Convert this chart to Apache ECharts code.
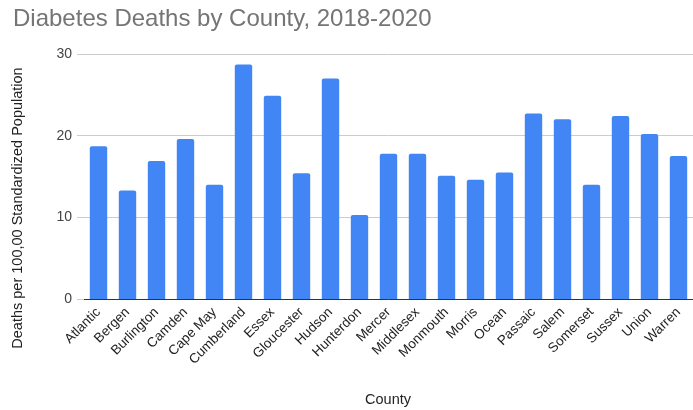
<!DOCTYPE html>
<html><head><meta charset="utf-8">
<script src="https://cdn.jsdelivr.net/npm/echarts@6/dist/echarts.min.js"></script>
<style>html,body{margin:0;padding:0;background:#fff}#c{width:693px;height:410px}</style>
</head><body><div id="c"></div>
<script>
var counties = ["Atlantic","Bergen","Burlington","Camden","Cape May","Cumberland","Essex","Gloucester","Hudson","Hunterdon","Mercer","Middlesex","Monmouth","Morris","Ocean","Passaic","Salem","Somerset","Sussex","Union","Warren"];
var deaths = [18.7,13.3,16.9,19.6,14.0,28.7,24.9,15.4,27.0,10.3,17.8,17.8,15.1,14.6,15.5,22.7,22.0,14.0,22.4,20.2,17.5];
var yTicks = [0,10,20,30];
var titleText = "Diabetes Deaths by County, 2018-2020";
var xName = "County";
var yName = "Deaths per 100,00 Standardized Population";

var chart = echarts.init(document.getElementById('c'), null, {renderer:'canvas'});
chart.setOption({
  animation:false,
  backgroundColor:'#fff',
  title:{text:titleText,left:8,top:2,textStyle:{fontFamily:'Liberation Sans, Arial',fontSize:24,fontWeight:'normal',color:'#757575'}},
  grid:{left:84,right:0,top:54,bottom:111,containLabel:false},
  xAxis:{type:'category',data:counties,
    axisLine:{show:true,lineStyle:{color:'#333',width:1}},
    axisTick:{show:false},
    axisLabel:{rotate:45,margin:11,interval:0,fontFamily:'Liberation Sans, Arial',fontSize:13.5,color:'#222'}},
  yAxis:{type:'value',min:yTicks[0],max:yTicks[yTicks.length-1],interval:10,
    axisLine:{show:false},
    axisTick:{show:true,length:7,lineStyle:{color:'#ccc'}},
    splitLine:{lineStyle:{color:'#ccc',width:1}},
    axisLabel:{margin:12,fontFamily:'Liberation Sans, Arial',fontSize:14,color:'#444'}},
  series:[{type:'bar',data:deaths,barCategoryGap:'40%',
    itemStyle:{color:'#4285F4',borderRadius:[2,2,0,0]}}],
  graphic:[
    {type:'text',x:388,y:400,style:{text:xName,font:'14.5px Liberation Sans, Arial',fill:'#222',align:'center',verticalAlign:'middle'}},
    {type:'text',x:18,y:208,rotation:Math.PI/2,style:{text:yName,font:'14.5px Liberation Sans, Arial',fill:'#222',align:'center',verticalAlign:'middle'}}
  ]
});
</script></body></html>
